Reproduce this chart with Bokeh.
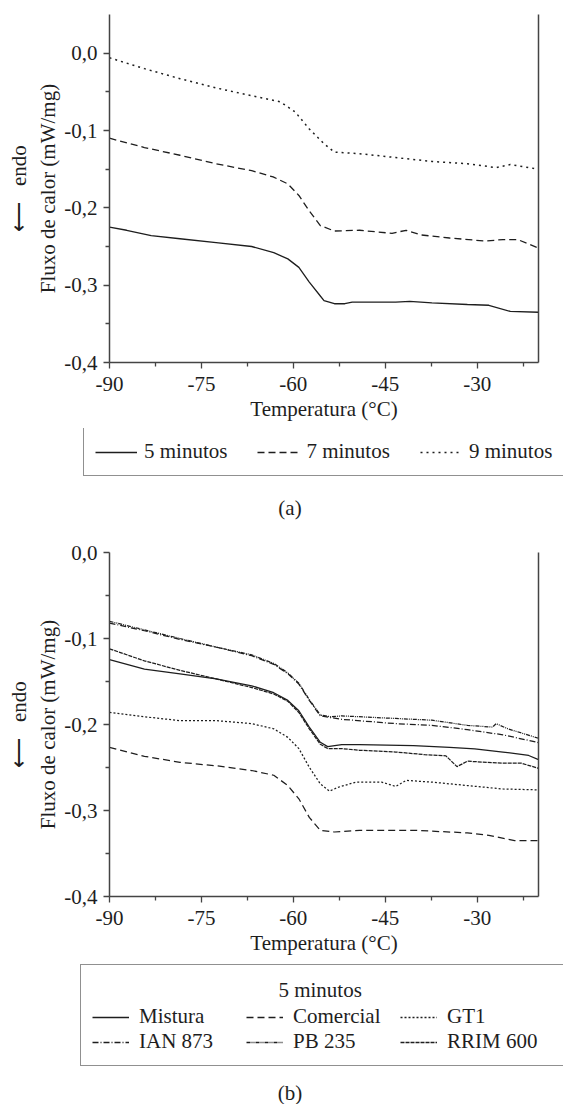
from bokeh.plotting import figure
from bokeh.models import (Range1d, FixedTicker, LinearAxis, Legend, LegendItem, Label)
from bokeh.layouts import column, row
from bokeh.embed import file_html
from bokeh.resources import INLINE

NAN = float("nan")

# ---------------- data (a) ----------------
t9 = [-90, -84.3, -78.5, -72.6, -66.8, -62.1, -59.7, -57.4, -55.0, -53.3, -49.2, -43.3, -37.4, -31.6, -26.9, -24.6, -20]
v9 = [-0.006, -0.020, -0.033, -0.045, -0.055, -0.063, -0.076, -0.098, -0.117, -0.128, -0.130, -0.135, -0.140, -0.143, -0.148, -0.144, -0.150]

t7 = [-90, -84.3, -78.5, -72.6, -66.8, -63.3, -60.9, -59.1, -57.4, -55.6, -53.3, -49.2, -43.9, -41.6, -39.2, -34.5, -28.7, -25.8, -23.4, -20]
v7 = [-0.110, -0.122, -0.132, -0.143, -0.152, -0.160, -0.169, -0.184, -0.204, -0.223, -0.230, -0.229, -0.233, -0.229, -0.235, -0.239, -0.243, -0.241, -0.241, -0.252]

t5 = [-90, -87.2, -83.2, -78.5, -72.6, -66.8, -63.2, -60.9, -59.1, -57.4, -55.6, -55.0, -53.3, -51.6, -50.4, -43.3, -41.0, -37.4, -31.6, -28.1, -24.6, -20]
v5 = [-0.225, -0.229, -0.236, -0.240, -0.245, -0.250, -0.258, -0.266, -0.277, -0.296, -0.314, -0.320, -0.324, -0.324, -0.322, -0.322, -0.321, -0.323, -0.325, -0.326, -0.334, -0.335]

labels_a = ["5 minutos", "7 minutos", "9 minutos"]
caption_a = "(a)"

# ---------------- data (b) ----------------
mis_t = [-90, -84.3, -78.5, -72.6, -66.8, -63.2, -60.9, -59.1, -57.4, -55.6, -54.4, -52.1, -49.2, -40.4, -34.5, -30.4, -25.8, -21.6, -20]
mis_v = [-0.1246, -0.1355, -0.141, -0.147, -0.155, -0.163, -0.172, -0.184, -0.203, -0.2207, -0.2257, -0.2234, -0.2234, -0.2245, -0.2265, -0.2284, -0.232, -0.236, -0.2408]

com_t = [-90, -84.3, -78.5, -72.6, -66.8, -63.2, -60.9, -59.1, -57.4, -55.6, -53.3, -49.2, -40.4, -31.6, -28.1, -23.9, -20]
com_v = [-0.2265, -0.237, -0.244, -0.248, -0.2535, -0.259, -0.271, -0.2864, -0.308, -0.3232, -0.325, -0.3232, -0.323, -0.326, -0.329, -0.3349, -0.335]

gt1_t = [-90, -84.3, -78.5, -72.6, -66.8, -63.2, -60.9, -59.1, -57.4, -55.6, -54.1, -52.7, -49.8, -45.6, -43.3, -41.6, -37.4, -31.6, -25.8, -20]
gt1_v = [-0.186, -0.191, -0.1955, -0.1955, -0.199, -0.205, -0.215, -0.228, -0.2497, -0.269, -0.2775, -0.273, -0.267, -0.267, -0.272, -0.265, -0.267, -0.271, -0.275, -0.276]

ian_t = [-90, -84.3, -78.5, -72.6, -66.8, -63.2, -60.9, -59.1, -57.4, -55.6, -53.9, -52.1, -43.3, -37.4, -31.6, -25.8, -20]
ian_v = [-0.082, -0.091, -0.101, -0.110, -0.120, -0.130, -0.141, -0.153, -0.172, -0.190, -0.192, -0.194, -0.199, -0.201, -0.206, -0.212, -0.221]

pb_t = [-90, -84.3, -78.5, -72.6, -66.8, -63.2, -60.9, -59.1, -57.4, -55.6, -53.9, -52.1, -43.3, -37.4, -31.6, -27.5, -26.9, -25.0, -20]
pb_v = [-0.080, -0.090, -0.100, -0.110, -0.119, -0.129, -0.140, -0.152, -0.171, -0.189, -0.191, -0.190, -0.193, -0.195, -0.201, -0.203, -0.199, -0.205, -0.216]

rrim_t = [-90, -84.3, -78.5, -72.6, -66.8, -63.2, -60.9, -59.1, -57.4, -55.6, -54.4, -52.1, -49.2, -43.3, -38.6, -35.1, -33.3, -31.6, -25.8, -22.8, -20]
rrim_v = [-0.112, -0.126, -0.137, -0.147, -0.157, -0.1645, -0.173, -0.186, -0.205, -0.223, -0.228, -0.228, -0.230, -0.232, -0.235, -0.2365, -0.249, -0.2427, -0.245, -0.245, -0.251]

labels_b = ["Mistura", "Comercial", "GT1", "IAN 873", "PB 235", "RRIM 600"]
legend_title_b = "5 minutos"
caption_b = "(b)"

# ---------------- axes ----------------
x_ticks = [-90, -75, -60, -45, -30]
x_tick_labels = ["-90", "-75", "-60", "-45", "-30"]
x_minor = [-82.5, -67.5, -52.5, -37.5, -22.5]
y_ticks = [0.0, -0.1, -0.2, -0.3, -0.4]
y_tick_labels = ["0,0", "-0,1", "-0,2", "-0,3", "-0,4"]
y_minor = [-0.05, -0.15, -0.25, -0.35]

FONT = "Liberation Serif"
FS = "21px"
INK = "#1e1e1e"
AXC = "#444444"
ENDO = "\u27f5\u00a0\u00a0\u00a0endo"
W = 563

# line styles per series
dash_a = ["solid", "7 4", "2 4"]
dash_b = ["solid", "7 4", "2 2", "6 2 1 2", "4 1 1 1 1 1", "4 1"]


def make_fig(height, ylo, yhi, top_b, bottom_b):
    p = figure(width=W, height=height, x_range=Range1d(-90, -20), y_range=Range1d(ylo, yhi),
               output_backend="svg", toolbar_location=None,
               min_border_left=109, min_border_right=25,
               min_border_top=top_b, min_border_bottom=bottom_b)
    p.outline_line_color = None
    p.grid.visible = False
    p.background_fill_color = "white"
    p.border_fill_color = "white"

    xa = p.xaxis[0]
    xa.ticker = FixedTicker(ticks=x_ticks, minor_ticks=x_minor)
    xa.major_label_overrides = dict(zip(x_ticks, x_tick_labels))
    xa.axis_label = "Temperatura (°C)"
    ya = p.yaxis[0]
    ya.ticker = FixedTicker(ticks=y_ticks, minor_ticks=y_minor)
    ya.major_label_overrides = dict(zip(y_ticks, y_tick_labels))
    ya.axis_label = "Fluxo de calor (mW/mg)"
    for ax in (xa, ya):
        ax.axis_line_color = AXC
        ax.axis_line_width = 1.5
        ax.major_tick_line_color = AXC
        ax.minor_tick_line_color = AXC
        ax.major_tick_line_width = 1.3
        ax.minor_tick_line_width = 1.3
        ax.major_tick_in = 0
        ax.major_tick_out = 6
        ax.minor_tick_in = 0
        ax.minor_tick_out = 4
        ax.major_label_text_font = FONT
        ax.major_label_text_font_size = FS
        ax.major_label_text_color = INK
        ax.axis_label_text_font = FONT
        ax.axis_label_text_font_size = FS
        ax.axis_label_text_font_style = "normal"
        ax.axis_label_text_color = INK
    xa.major_label_standoff = 8
    xa.axis_label_standoff = 3
    ya.major_label_standoff = 6
    ya.axis_label_standoff = 1

    # outer left axis carrying only the "endo" arrow label
    ea = LinearAxis(ticker=FixedTicker(ticks=[]), axis_line_color=None,
                    major_tick_line_color=None, minor_tick_line_color=None,
                    major_tick_out=0, minor_tick_out=0,
                    major_label_text_font_size="0px", major_label_standoff=0,
                    axis_label=ENDO, axis_label_standoff=3,
                    axis_label_text_font=FONT, axis_label_text_font_size=FS,
                    axis_label_text_font_style="normal", axis_label_text_color=INK)
    p.add_layout(ea, "left")

    ra = LinearAxis(ticker=FixedTicker(ticks=[]), axis_line_color=AXC, axis_line_width=1.5,
                    major_tick_line_color=None, minor_tick_line_color=None,
                    major_tick_out=0, minor_tick_out=0,
                    major_label_text_font_size="0px", major_label_standoff=0)
    p.add_layout(ra, "right")
    return p


def legend_fig(height):
    # a strip with no axes whose frame is the whole strip (pixel coordinates)
    f = figure(width=W, height=height, x_range=Range1d(0, W), y_range=Range1d(0, height),
               x_axis_type=None, y_axis_type=None, output_backend="svg",
               toolbar_location=None, min_border=0)
    f.outline_line_color = None
    f.grid.visible = False
    f.background_fill_color = "white"
    f.border_fill_color = "white"
    return f


def style_legend(leg):
    leg.label_text_font = FONT
    leg.label_text_font_size = FS
    leg.label_text_color = INK
    leg.border_line_color = "#222222"
    leg.border_line_width = 1.5
    leg.background_fill_alpha = 0
    leg.margin = 0


# ---------------- figure (a) ----------------
pa = make_fig(428, -0.4, 0.05, 14, 66)
for tt, vv, d, lw in zip([t5, t7, t9], [v5, v7, v9], dash_a, [1.3, 1.3, 1.5]):
    pa.line(tt, vv, line_color=INK, line_width=lw, line_dash=d)

la = legend_fig(102)
keys_a = [la.line([NAN, NAN], [NAN, NAN], line_color=INK, line_width=1.4, line_dash=d) for d in dash_a]
leg_a = Legend(items=[LegendItem(label=l, renderers=[r]) for l, r in zip(labels_a, keys_a)],
               orientation="horizontal", location=(83, 54),
               glyph_width=42, glyph_height=20, label_standoff=7, spacing=30, padding=11)
style_legend(leg_a)
la.add_layout(leg_a, "center")
la.add_layout(Label(x=289.5, y=22.7, text=caption_a, text_align="center", text_baseline="middle",
                    text_font=FONT, text_font_size=FS, text_color=INK))

# ---------------- figure (b) ----------------
pb = make_fig(432, -0.4, 0.0, 22, 66)
for tt, vv, d in zip([mis_t, com_t, gt1_t, ian_t, pb_t, rrim_t],
                     [mis_v, com_v, gt1_v, ian_v, pb_v, rrim_v], dash_b):
    pb.line(tt, vv, line_color=INK, line_width=1.25, line_dash=d)

lb = legend_fig(142)
keys_b = [lb.line([NAN, NAN], [NAN, NAN], line_color=INK, line_width=1.3, line_dash=d) for d in dash_b]
leg_b = Legend(items=[LegendItem(label=l, renderers=[r]) for l, r in zip(labels_b, keys_b)],
               orientation="horizontal", ncols=3, location=(80, 38),
               title=" ", title_text_font=FONT, title_text_font_size=FS,
               title_text_font_style="normal", title_standoff=3,
               glyph_width=37, glyph_height=20, label_height=20, label_width=107,
               label_standoff=10, spacing=0, padding=11)
style_legend(leg_b)
lb.add_layout(leg_b, "center")
lb.add_layout(Label(x=319.6, y=115, text=legend_title_b, text_align="center", text_baseline="middle",
                    text_font=FONT, text_font_size=FS, text_color=INK, level="overlay"))
lb.add_layout(Label(x=289.5, y=12, text=caption_b, text_align="center", text_baseline="middle",
                    text_font=FONT, text_font_size=FS, text_color=INK))

layout = column(pa, row(la), pb, row(lb), spacing=0)
open("out.html", "w").write(file_html(layout, INLINE))
